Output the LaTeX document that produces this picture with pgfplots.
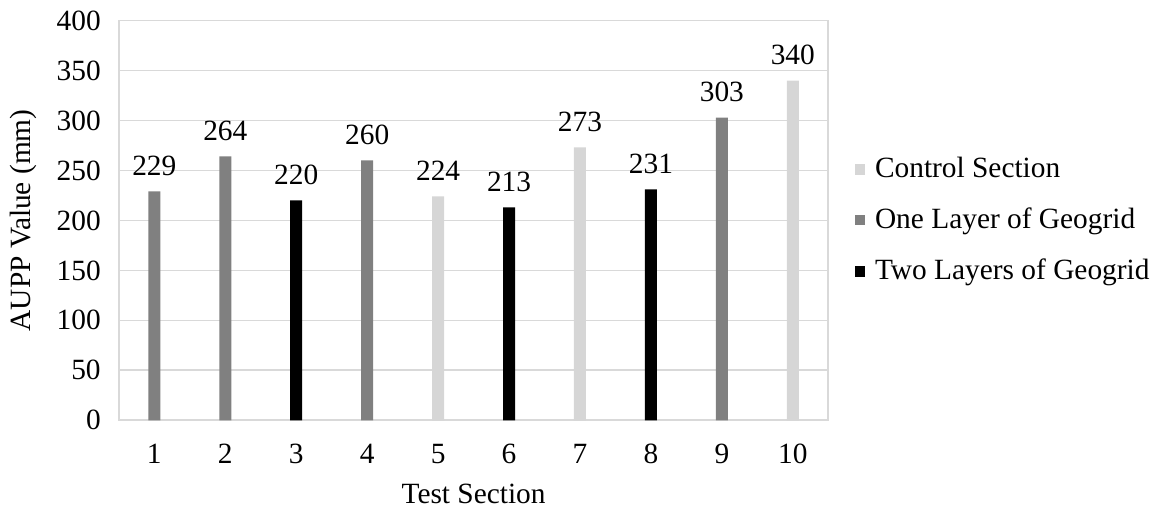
\documentclass[border=0pt]{standalone}
\usepackage{fontspec}
\setmainfont{Liberation Serif}
\usepackage{pgfplots}
\pgfplotsset{compat=1.18}
\definecolor{ctrl}{HTML}{D6D6D6}
\definecolor{one}{HTML}{808080}
\definecolor{gridc}{HTML}{D9D9D9}
\newcommand{\fs}{\fontsize{14.7}{17.6}\selectfont}
\begin{document}
\fs
\begin{tikzpicture}
\begin{axis}[
  name=ax,
  scale only axis,
  width=355pt, height=200pt,
  xmin=0.5, xmax=10.5,
  ymin=0, ymax=400,
  ytick={0,50,...,400},
  xtick={1,...,10},
  ymajorgrids, grid style={gridc, line width=0.8pt},
  axis line style={gridc, line width=0.8pt},
  major tick length=0pt,
  /pgf/number format/assume math mode=true,
  tick label style={font=\fs},
  yticklabel style={xshift=-4pt},
  xticklabel style={yshift=-7pt},
  label style={font=\fs},
  xlabel={Test Section},
  ylabel={AUPP Value (mm)},
  xlabel style={at={(axis description cs:0.5,0)}, anchor=center, yshift=-37pt},
  ylabel style={at={(axis description cs:-0.135,0.5)}, anchor=center},
  ybar, bar width=6pt, bar shift=0pt,
  nodes near coords,
  every node near coord/.append style={font=\fs, anchor=center, yshift=13pt, text=black},
  legend style={draw=none, at={(axis description cs:1,0.5)}, anchor=west, xshift=10pt,
    font=\fs, row sep=9pt, column sep=3pt, fill=none},
  legend cell align=left,
  legend image code/.code={\fill[#1] (0pt,-2.6pt) rectangle (5.2pt,2.6pt);},
]
\addplot[fill=ctrl, draw=none] coordinates {(5,224) (7,273) (10,340)};
\addlegendentry{Control Section}
\addplot[fill=one, draw=none] coordinates {(1,229) (2,264) (4,260) (9,303)};
\addlegendentry{One Layer of Geogrid}
\addplot[fill=black, draw=none] coordinates {(3,220) (6,213) (8,231)};
\addlegendentry{Two Layers of Geogrid}
\end{axis}
\path[use as bounding box] ([xshift=-59pt,yshift=-46pt]ax.south west) rectangle ([xshift=166.5pt,yshift=10.3pt]ax.north east);
\end{tikzpicture}
\end{document}
